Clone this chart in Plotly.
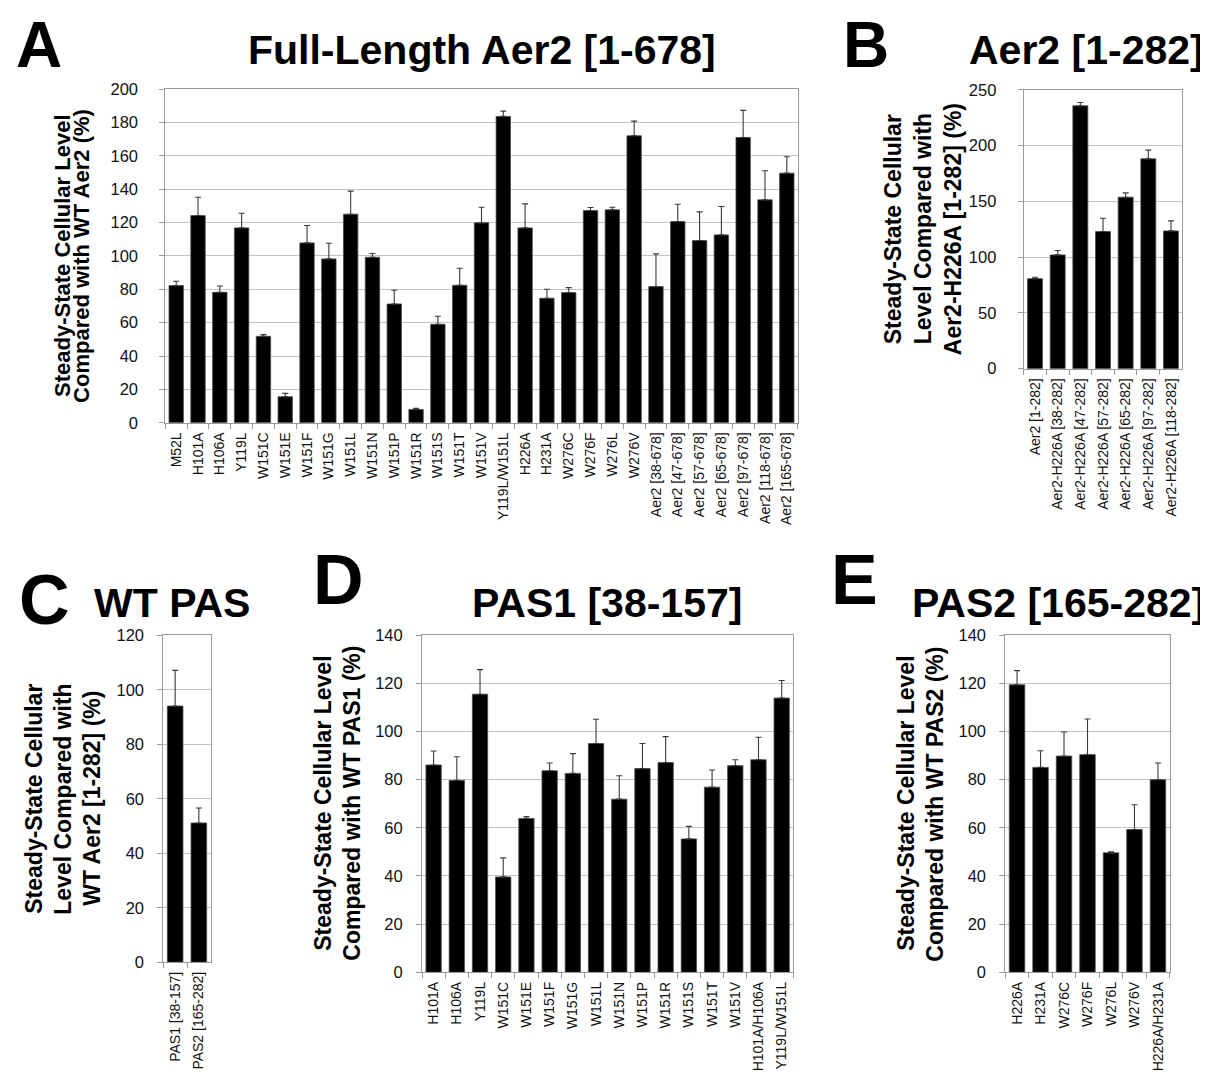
import plotly.graph_objects as go

W, H = 1208, 1088

# ---------------- data ----------------
a_labels = ["M52L", "H101A", "H106A", "Y119L", "W151C", "W151E", "W151F", "W151G",
            "W151L", "W151N", "W151P", "W151R", "W151S", "W151T", "W151V",
            "Y119L/W151L", "H226A", "H231A", "W276C", "W276F", "W276L", "W276V",
            "Aer2 [38-678]", "Aer2 [47-678]", "Aer2 [57-678]", "Aer2 [65-678]",
            "Aer2 [97-678]", "Aer2 [118-678]", "Aer2 [165-678]"]
a_values = [82.2, 124.2, 78.2, 116.8, 51.8, 15.6, 107.8, 98.2, 125.0, 99.2, 71.2, 8.0,
            59.0, 82.4, 119.8, 183.6, 116.8, 74.6, 78.0, 127.2, 127.6, 172.0,
            81.6, 120.6, 109.2, 112.6, 171.0, 133.6, 149.6]
a_errors = [2.6, 11.0, 3.8, 8.8, 1.0, 2.0, 10.4, 9.4, 13.8, 2.2, 8.2, 0.6, 4.8, 10.2,
            9.4, 3.2, 14.4, 5.4, 3.0, 1.8, 1.6, 8.8, 19.6, 10.4, 17.2, 17.0, 16.2,
            17.4, 9.8]

b_labels = ["Aer2 [1-282]", "Aer2-H226A [38-282]", "Aer2-H226A [47-282]",
            "Aer2-H226A [57-282]", "Aer2-H226A [65-282]", "Aer2-H226A [97-282]",
            "Aer2-H226A [118-282]"]
b_values = [80.7, 102.0, 235.6, 122.9, 153.7, 188.1, 123.5]
b_errors = [1.2, 3.9, 3.0, 12.0, 3.9, 7.8, 9.0]

c_labels = ["PAS1 [38-157]", "PAS2 [165-282]"]
c_values = [94.0, 51.1]
c_errors = [13.1, 5.5]

d_labels = ["H101A", "H106A", "Y119L", "W151C", "W151E", "W151F", "W151G", "W151L",
            "W151N", "W151P", "W151R", "W151S", "W151T", "W151V", "H101A/H106A",
            "Y119L/W151L"]
d_values = [86.1, 79.7, 115.5, 39.6, 63.9, 83.7, 82.6, 95.0, 71.9, 84.6, 87.1, 55.4,
            76.9, 85.8, 88.3, 113.9]
d_errors = [5.8, 9.8, 10.2, 7.9, 0.8, 3.2, 8.2, 10.1, 9.7, 10.4, 10.8, 5.2, 7.1, 2.5,
            9.3, 7.3]

e_labels = ["H226A", "H231A", "W276C", "W276F", "W276L", "W276V", "H226A/H231A"]
e_values = [119.4, 85.1, 89.8, 90.4, 49.6, 59.3, 80.0]
e_errors = [5.9, 6.9, 10.0, 14.8, 0.4, 10.3, 6.9]

panel_letters = ["A", "B", "C", "D", "E"]
panel_titles = ["Full-Length Aer2 [1-678]", "Aer2 [1-282]", "WT PAS",
                "PAS1 [38-157]", "PAS2 [165-282]"]
y_titles = [
    ["Steady-State Cellular Level", "Compared with WT Aer2 (%)"],
    ["Steady-State Cellular", "Level Compared with", "Aer2-H226A [1-282] (%)"],
    ["Steady-State Cellular", "Level Compared with", "WT Aer2 [1-282] (%)"],
    ["Steady-State Cellular Level", "Compared with WT PAS1 (%)"],
    ["Steady-State Cellular Level", "Compared with WT PAS2 (%)"],
]
y_ranges = [[0, 200], [0, 250], [0, 120], [0, 140], [0, 140]]
y_dticks = [20, 50, 20, 20, 20]

# ---------------- layout geometry (target pixels in the picture) ----------------
boxes = [(164.3, 89.3, 796.7, 422.7),
         (1022.7, 90.0, 1181.3, 368.7),
         (162.3, 635.0, 209.7, 961.7),
         (421.0, 635.0, 792.3, 971.7),
         (1004.3, 635.0, 1168.7, 971.7)]
ystandoff = [18, 18, 10, 10, 10]
letter_pos = [(38, 45), (865, 45), (43, 600), (337, 580), (854, 580)]
letter_size = [64, 64, 70, 70, 70]
title_pos = [(481, 50), (1085, 50), (171, 603), (606, 603), (1057, 603)]
ytitle_x = [[62, 81], [892, 922, 952], [33, 62, 91], [322, 351], [905, 934]]
ytitle_size = [22, 23, 23, 23, 23]

datasets = [(a_labels, a_values, a_errors), (b_labels, b_values, b_errors),
            (c_labels, c_values, c_errors), (d_labels, d_values, d_errors),
            (e_labels, e_values, e_errors)]

# correction for the rendered page offset / scale
OX, OY, SY = 7.0, 17.3, 0.9826


def px(x):
    return (x - OX) / W


def py(y):
    return 1 - (y - OY) / (SY * H)


fig = go.Figure()
layout = {}
annotations = []
BOLD = "Liberation Sans, Arial, Helvetica, sans-serif"

for i, (labels, vals, errs) in enumerate(datasets):
    k = i + 1
    xname = "x" if k == 1 else f"x{k}"
    yname = "y" if k == 1 else f"y{k}"
    fig.add_trace(go.Bar(
        x=labels, y=vals, xaxis=xname, yaxis=yname, showlegend=False,
        marker=dict(color="black", line=dict(color="#4a4a4a", width=0.8)),
        error_y=dict(type="data", array=errs, arrayminus=[0] * len(errs),
                     symmetric=False, color="#3a3a3a", thickness=1.1, width=3),
    ))
    l, t, r, b = boxes[i]
    xkey = "xaxis" if k == 1 else f"xaxis{k}"
    ykey = "yaxis" if k == 1 else f"yaxis{k}"
    layout[xkey] = dict(
        domain=[px(l), px(r)], anchor=yname, type="category",
        range=[-0.5, len(labels) - 0.5], tickangle=-90, ticks="outside",
        tickson="boundaries", ticklen=5, tickcolor="#9a9a9a", tickwidth=1,
        showline=True, linecolor="#9a9a9a", linewidth=1, mirror=True,
        showgrid=False, ticklabelstandoff=3,
        tickfont=dict(family="Liberation Sans, Arial, sans-serif", size=14,
                      color="#111"),
    )
    layout[ykey] = dict(
        domain=[py(b), py(t)], anchor=xname, range=y_ranges[i],
        dtick=y_dticks[i], tick0=0, ticks="outside", ticklen=5,
        tickcolor="#9a9a9a", showline=True, linecolor="#9a9a9a", linewidth=1,
        mirror=True, showgrid=True, gridcolor="#c4c4c4", gridwidth=1,
        zeroline=False, ticklabelstandoff=ystandoff[i],
        tickfont=dict(family="Liberation Sans, Arial, sans-serif", size=16.5,
                      color="#111"),
    )
    lx, ly = letter_pos[i]
    annotations.append(dict(text=f"<b>{panel_letters[i]}</b>", x=px(lx), y=py(ly),
                            xref="paper", yref="paper", showarrow=False,
                            xanchor="center", yanchor="middle", borderpad=0,
                            font=dict(family=BOLD, size=letter_size[i],
                                      color="black")))
    tx, ty = title_pos[i]
    annotations.append(dict(text=f"<b>{panel_titles[i]}</b>", x=px(tx), y=py(ty),
                            xref="paper", yref="paper", showarrow=False,
                            xanchor="center", yanchor="middle",
                            font=dict(family=BOLD, size=41, color="black")))
    yc = (t + b) / 2
    for line, lxp in zip(y_titles[i], ytitle_x[i]):
        annotations.append(dict(text=f"<b>{line}</b>", x=px(lxp), y=py(yc),
                                xref="paper", yref="paper", showarrow=False,
                                textangle=-90, xanchor="center", yanchor="middle",
                                font=dict(family=BOLD, size=ytitle_size[i],
                                          color="black")))

fig.update_layout(
    width=W, height=H, autosize=False,
    margin=dict(l=0, r=0, t=0, b=0, pad=0),
    paper_bgcolor="white", plot_bgcolor="white",
    bargap=0.34, annotations=annotations,
    **layout,
)

fig.write_html("out.html")
